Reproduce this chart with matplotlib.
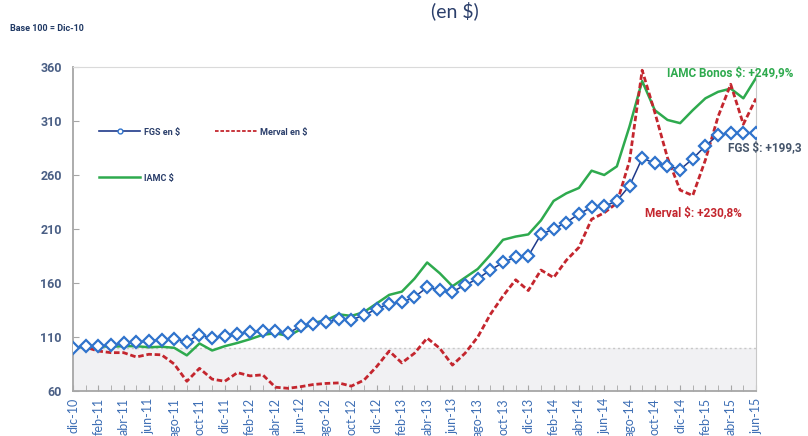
import matplotlib
matplotlib.use("Agg")
import matplotlib.pyplot as plt
from matplotlib.lines import Line2D

plt.rcParams['font.family'] = ['Lato', 'DejaVu Sans']
BOLD = ['Roboto', 'DejaVu Sans']

months = list(range(55))
tick_labels = ["dic-10", "feb-11", "abr-11", "jun-11", "ago-11", "oct-11", "dic-11",
               "feb-12", "abr-12", "jun-12", "ago-12", "oct-12", "dic-12",
               "feb-13", "abr-13", "jun-13", "ago-13", "oct-13", "dic-13",
               "feb-14", "abr-14", "jun-14", "ago-14", "oct-14", "dic-14",
               "feb-15", "abr-15", "jun-15"]

fgs = [100, 101.5, 101.5, 102.5, 104, 105, 106.5, 107.5, 108.5, 105.5,
       112, 109, 111, 113, 114.5, 116, 115.5, 113.5, 120, 122.5,
       123.5, 126.5, 126, 130, 136, 141, 142, 147, 156, 153.5,
       152, 158, 164, 172, 179, 184, 185, 205, 210, 216,
       224, 230, 231, 236, 250, 275.5, 271, 268.5, 265, 275,
       287, 297, 299, 299, 299.3]

iamc = [100, 101, 101.5, 101, 101.5, 101.5, 100.5, 101, 100, 93,
        104, 97.5, 101.5, 104.5, 108, 112, 113.5, 111, 117, 123,
        125.5, 131, 129.5, 133, 141, 149, 152, 164, 179, 169,
        157, 165, 173, 186, 200, 203, 205, 218, 236, 243,
        248, 264, 260, 268, 305, 347, 320, 311, 308, 320,
        331, 337, 340, 331, 349.9]

merval = [100, 100.5, 97, 95.5, 95.5, 91.5, 94, 93.5, 85, 69,
          81, 71, 69, 77, 74, 75, 63.5, 62.5, 64, 66,
          67, 67.5, 64.5, 70, 82.5, 97, 86, 95, 109, 99.5,
          84, 95, 110, 131, 148, 163, 153, 172, 165, 181,
          193, 219, 225, 234, 273, 357, 318, 276, 246, 241,
          274, 314, 344, 307, 330.8]

fig = plt.figure(figsize=(8.08, 4.36), dpi=100)
ax = fig.add_axes([73/808, 1-391/436, (756-73)/808, (391-67)/436])

ax.axhspan(60, 100, color='#F1F1F3', zorder=0, lw=0)
ax.axhline(100, color='#C8C8C8', lw=1.0, ls=(0, (1.5, 2)), zorder=1)

l_iamc, = ax.plot(months, iamc, color='#2EAA4E', lw=1.8, zorder=3)
l_merv, = ax.plot(months, merval, color='#C4262E', lw=2.0, ls=(0, (2, 1)), zorder=4)
l_fgs, = ax.plot(months, fgs, color='#1F3A8A', lw=1.1, marker='D', markersize=5.8,
                 markerfacecolor='white', markeredgecolor='#2F73CC', markeredgewidth=1.6, zorder=5)

ax.set_xlim(0, 54)
ax.set_ylim(60, 360)
ax.set_yticks([60, 110, 160, 210, 260, 310, 360])
ax.set_xticks(list(range(0, 55, 2)))
ax.set_xticklabels(tick_labels, rotation=90)
ax.set_xticks(list(range(1, 55, 2)), minor=True)

for lab in ax.get_yticklabels():
    lab.set_fontweight('bold')
    lab.set_family(BOLD)
ax.tick_params(axis='y', direction='in', length=4, color='#A6A6A6', labelsize=9,
               labelcolor='#4A5F85', pad=8)
ax.tick_params(axis='x', which='both', direction='in', length=4, color='#A6A6A6',
               labelsize=9, labelcolor='#3E6FB5', pad=5)

ax.spines['left'].set_color('#A6A6A6')
ax.spines['bottom'].set_color('#A6A6A6')
ax.spines['left'].set_linewidth(1.3)
ax.spines['bottom'].set_linewidth(1.3)
ax.spines['right'].set_color('#C8C8C8')
ax.spines['top'].set_color('#DADADA')

leg_kw = dict(frameon=False, borderpad=0, borderaxespad=0,
              handlelength=4.6, handletextpad=0.4, numpoints=1, loc='center left',
              prop={'family': BOLD, 'weight': 'bold', 'size': 6.5})
h_fgs = Line2D([], [], color='#1F3A8A', lw=1.2, marker='o', markersize=3.5,
               markerfacecolor='white', markeredgecolor='#2F73CC', markeredgewidth=1)
h_merv = Line2D([], [], color='#C4262E', lw=1.3, ls=(0, (2, 1)))
h_iamc = Line2D([], [], color='#2EAA4E', lw=1.8)
leg1 = ax.legend([h_fgs], ['FGS en $'], bbox_to_anchor=(0.038, 0.799), **leg_kw)
ax.add_artist(leg1)
leg2 = ax.legend([h_merv], ['Merval en $'], bbox_to_anchor=(0.208, 0.799), **leg_kw)
ax.add_artist(leg2)
leg3 = ax.legend([h_iamc], ['IAMC $'], bbox_to_anchor=(0.038, 0.657), **leg_kw)
for lg in (leg1, leg2, leg3):
    for t in lg.get_texts():
        t.set_color('#2B3F6B')

ax.text(46.95, 354.5, 'IAMC Bonos $: +249,9%', color='#2EAA4E', fontsize=8.5,
        fontweight='bold', family=BOLD, ha='left', va='center', clip_on=False, zorder=6)
ax.text(51.8, 285, 'FGS $: +199,3', color='#44546A', fontsize=8.5,
        fontweight='bold', family=BOLD, ha='left', va='center', clip_on=False, zorder=6)
ax.text(45.2, 224.8, 'Merval $: +230,8%', color='#C4262E', fontsize=8.5,
        fontweight='bold', family=BOLD, ha='left', va='center', clip_on=False, zorder=6)

fig.text(10/808, 1-28/436, 'Base 100 = Dic-10', color='#1F3864', fontsize=6.5,
         fontweight='bold', family=BOLD, ha='left', va='center')
fig.text(455/808, 1-11/436, '(en $)', color='#2B3F6B', fontsize=14,
         ha='center', va='center')

fig.savefig('out.png', dpi=100)
